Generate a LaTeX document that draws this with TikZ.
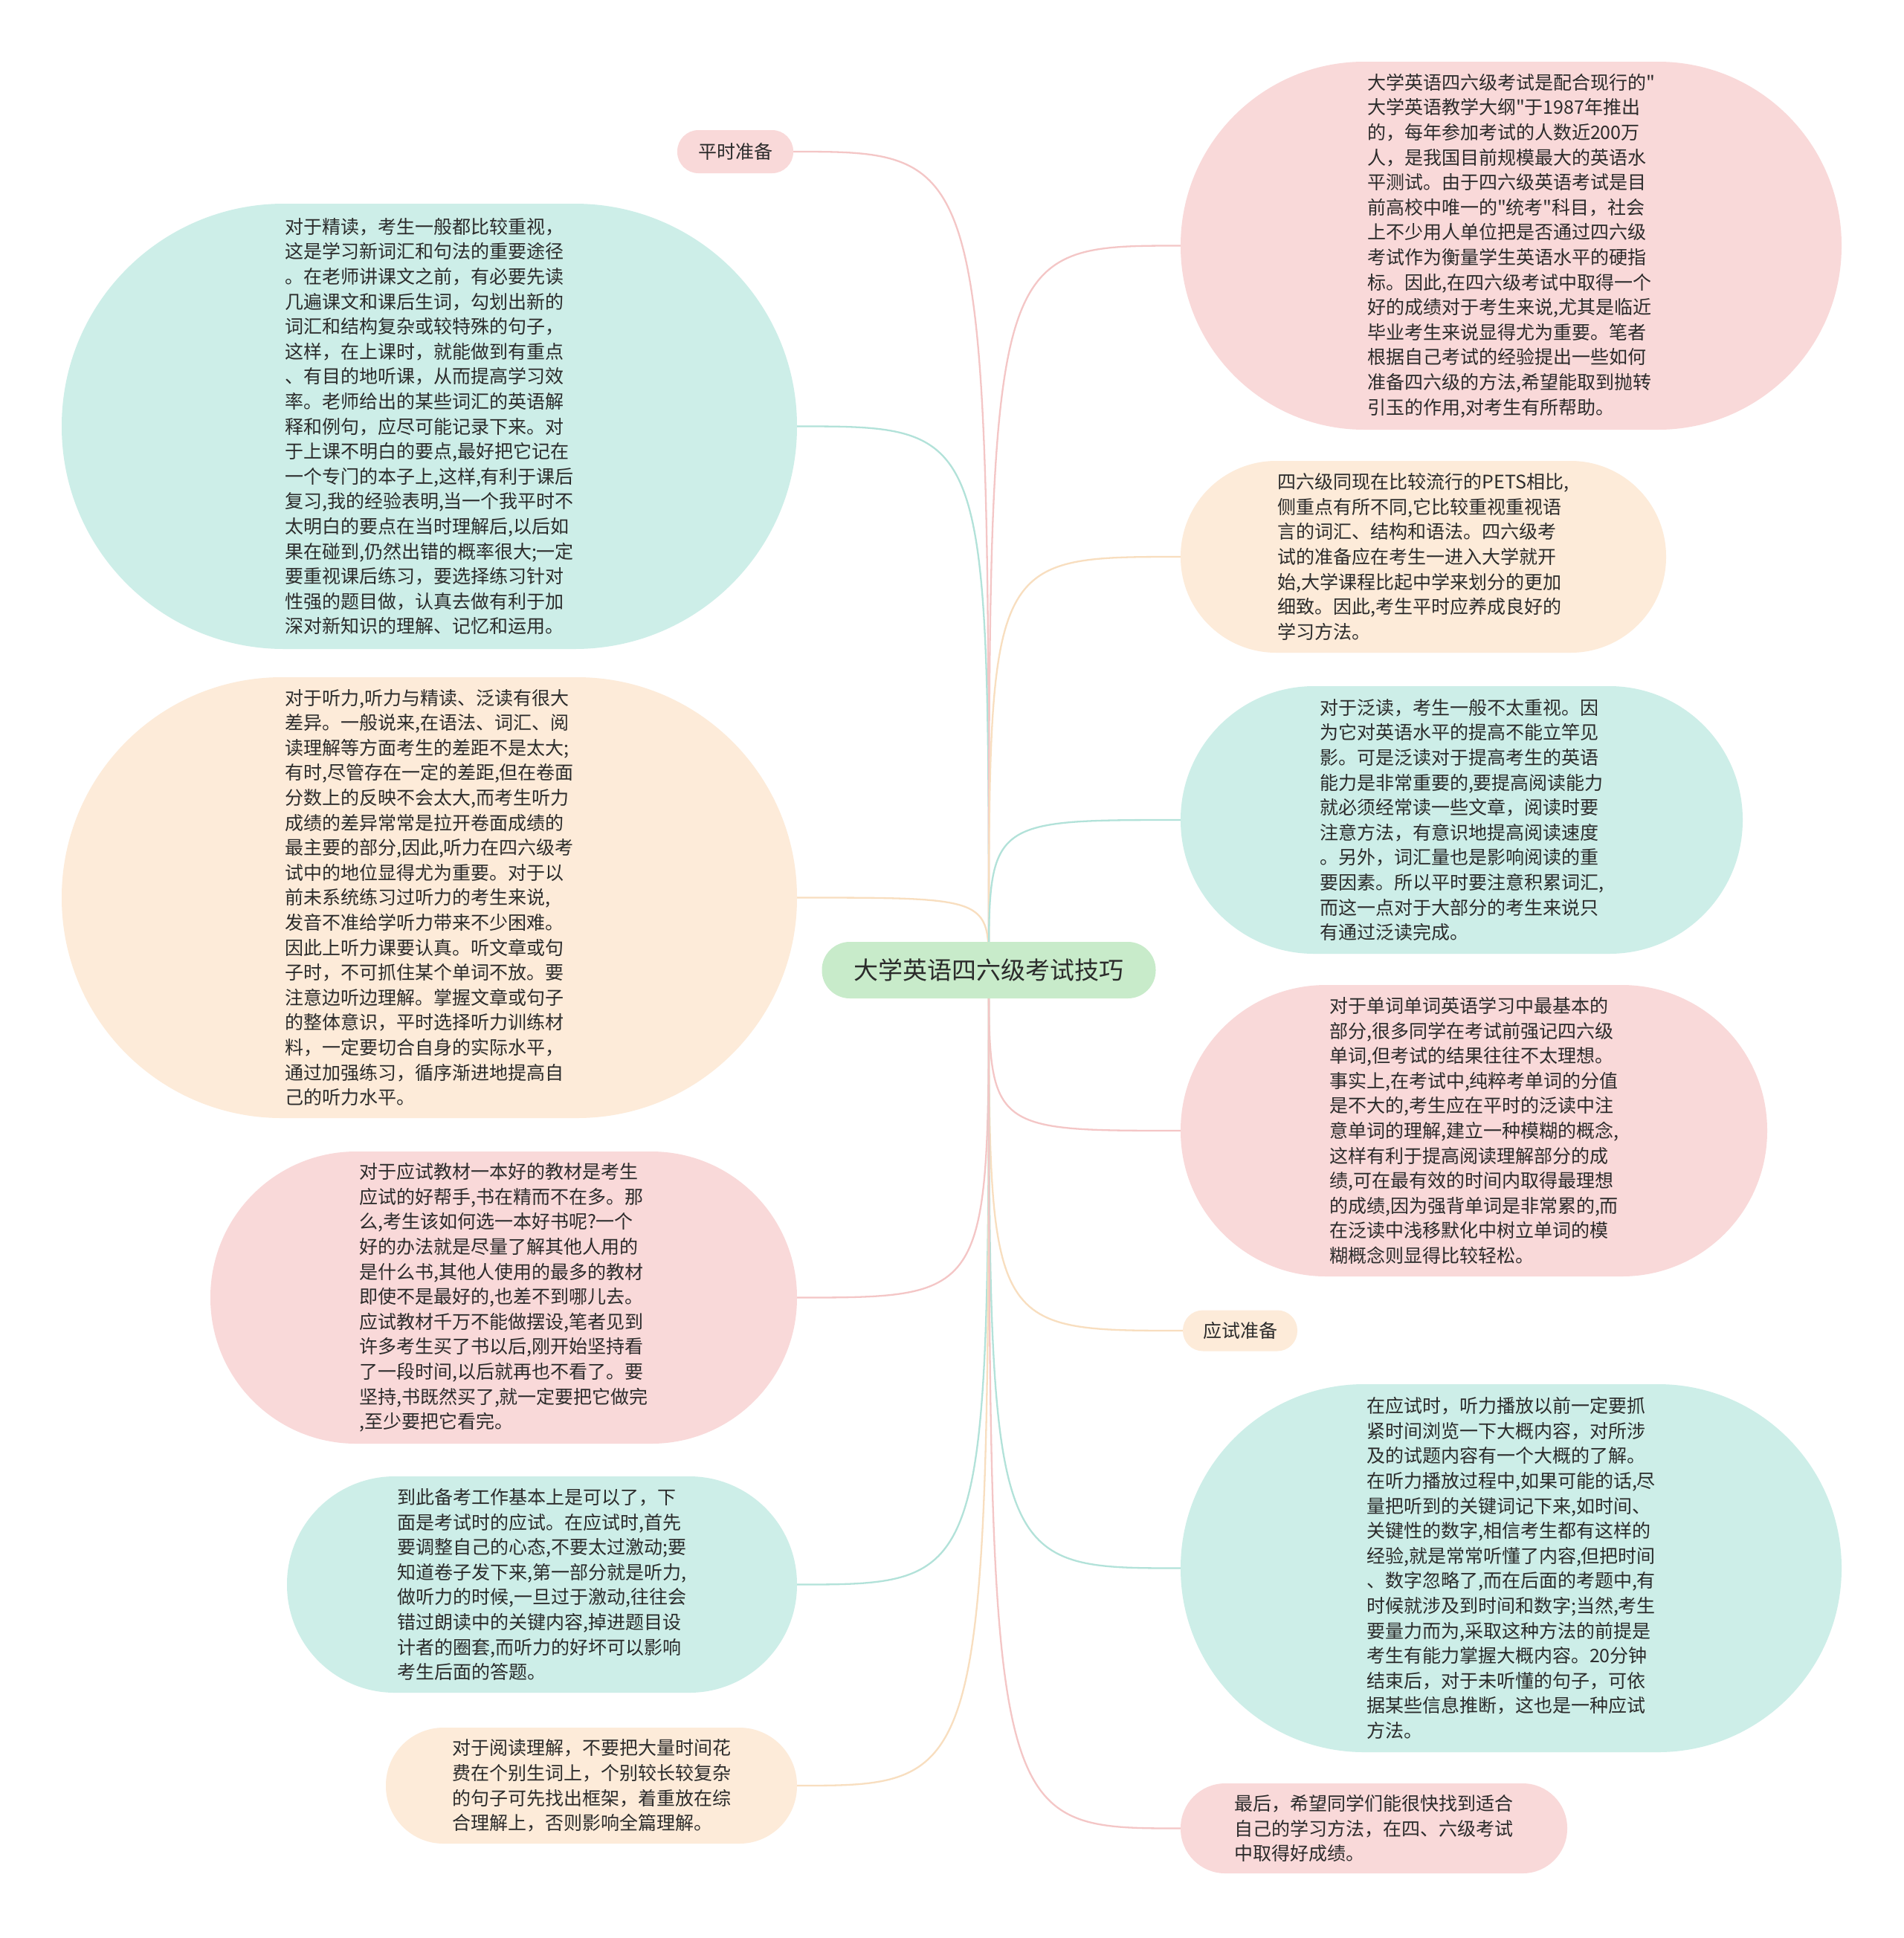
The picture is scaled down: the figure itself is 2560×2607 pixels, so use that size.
\documentclass[tikz,border=0pt]{standalone}
\usepackage{fontspec}
\newfontfamily\cjk{Noto Sans CJK SC}[Ligatures=TeXOff]
\usetikzlibrary{backgrounds}
\definecolor{tealF}{HTML}{CDEEE8}
\definecolor{pinkF}{HTML}{F9D9D9}
\definecolor{orangeF}{HTML}{FDEBD9}
\definecolor{greenF}{HTML}{C8EBCA}
\definecolor{tealL}{HTML}{B2E2D9}
\definecolor{pinkL}{HTML}{F4C6C6}
\definecolor{orangeL}{HTML}{F8DEBF}
\definecolor{txt}{HTML}{2B2B2B}
\begin{document}
\begin{tikzpicture}[x=1pt,y=-1pt,
  bub/.style={draw=none, align=left, inner sep=0pt, text=txt, font=\cjk\fontsize{25pt}{33.6pt}\selectfont},
  conn/.style={line width=2.3pt, line cap=round}]
\useasboundingbox (0,0) rectangle (2560,2607);

% centre
\node[bub, fill=greenF, minimum width=449pt, minimum height=76pt, rounded corners=37.5pt, align=center, font=\cjk\fontsize{33pt}{40pt}\selectfont] (c) at (1330,1305) {大学英语四六级考试技巧};

% labels
\node[bub, fill=pinkF, minimum width=156pt, minimum height=58pt, rounded corners=28.5pt, align=center] (ps) at (989,204) {平时准备};
\node[bub, fill=orangeF, minimum width=154pt, minimum height=55pt, rounded corners=27pt, align=center] (ys) at (1668,1790) {应试准备};

% left nodes
\node[bub, fill=tealF, minimum width=989pt, minimum height=599pt, rounded corners=299pt] (l1) at (577.5,573.5) {对于精读，考生一般都比较重视，\\这是学习新词汇和句法的重要途径\\。在老师讲课文之前，有必要先读\\几遍课文和课后生词，勾划出新的\\词汇和结构复杂或较特殊的句子，\\这样，在上课时，就能做到有重点\\、有目的地听课，从而提高学习效\\率。老师给出的某些词汇的英语解\\释和例句，应尽可能记录下来。对\\于上课不明白的要点,最好把它记在\\一个专门的本子上,这样,有利于课后\\复习,我的经验表明,当一个我平时不\\太明白的要点在当时理解后,以后如\\果在碰到,仍然出错的概率很大;一定\\要重视课后练习，要选择练习针对\\性强的题目做，认真去做有利于加\\深对新知识的理解、记忆和运用。};

\node[bub, fill=orangeF, minimum width=989pt, minimum height=593pt, rounded corners=296pt] (l2) at (577.5,1207.5) {对于听力,听力与精读、泛读有很大\\差异。一般说来,在语法、词汇、阅\\读理解等方面考生的差距不是太大;\\有时,尽管存在一定的差距,但在卷面\\分数上的反映不会太大,而考生听力\\成绩的差异常常是拉开卷面成绩的\\最主要的部分,因此,听力在四六级考\\试中的地位显得尤为重要。对于以\\前未系统练习过听力的考生来说,\\发音不准给学听力带来不少困难。\\因此上听力课要认真。听文章或句\\子时，不可抓住某个单词不放。要\\注意边听边理解。掌握文章或句子\\的整体意识，平时选择听力训练材\\料，一定要切合自身的实际水平，\\通过加强练习，循序渐进地提高自\\己的听力水平。};

\node[bub, fill=pinkF, minimum width=789pt, minimum height=393pt, rounded corners=196pt] (l3) at (677.5,1745.5) {对于应试教材一本好的教材是考生\\应试的好帮手,书在精而不在多。那\\么,考生该如何选一本好书呢?一个\\好的办法就是尽量了解其他人用的\\是什么书,其他人使用的最多的教材\\即使不是最好的,也差不到哪儿去。\\应试教材千万不能做摆设,笔者见到\\许多考生买了书以后,刚开始坚持看\\了一段时间,以后就再也不看了。要\\坚持,书既然买了,就一定要把它做完\\,至少要把它看完。};

\node[bub, fill=tealF, minimum width=686pt, minimum height=291pt, rounded corners=145pt] (l4) at (729,2131.5) {到此备考工作基本上是可以了，下\\面是考试时的应试。在应试时,首先\\要调整自己的心态,不要太过激动;要\\知道卷子发下来,第一部分就是听力,\\做听力的时候,一旦过于激动,往往会\\错过朗读中的关键内容,掉进题目设\\计者的圈套,而听力的好坏可以影响\\考生后面的答题。};

\node[bub, fill=orangeF, minimum width=553pt, minimum height=156pt, rounded corners=77.5pt] (l5) at (795.5,2402) {对于阅读理解，不要把大量时间花\\费在个别生词上，个别较长较复杂\\的句子可先找出框架，着重放在综\\合理解上，否则影响全篇理解。};

% right nodes
\node[bub, fill=pinkF, minimum width=889pt, minimum height=495pt, rounded corners=247pt] (r1) at (2032.5,330.5) {大学英语四六级考试是配合现行的"\\大学英语教学大纲"于1987年推出\\的，每年参加考试的人数近200万\\人，是我国目前规模最大的英语水\\平测试。由于四六级英语考试是目\\前高校中唯一的"统考"科目，社会\\上不少用人单位把是否通过四六级\\考试作为衡量学生英语水平的硬指\\标。因此,在四六级考试中取得一个\\好的成绩对于考生来说,尤其是临近\\毕业考生来说显得尤为重要。笔者\\根据自己考试的经验提出一些如何\\准备四六级的方法,希望能取到抛转\\引玉的作用,对考生有所帮助。};

\node[bub, fill=orangeF, minimum width=653pt, minimum height=258pt, rounded corners=128.5pt] (r2) at (1914.5,749) {四六级同现在比较流行的PETS相比,\\侧重点有所不同,它比较重视重视语\\言的词汇、结构和语法。四六级考\\试的准备应在考生一进入大学就开\\始,大学课程比起中学来划分的更加\\细致。因此,考生平时应养成良好的\\学习方法。};

\node[bub, fill=tealF, minimum width=756pt, minimum height=360pt, rounded corners=179.5pt] (r3) at (1966,1103) {对于泛读，考生一般不太重视。因\\为它对英语水平的提高不能立竿见\\影。可是泛读对于提高考生的英语\\能力是非常重要的,要提高阅读能力\\就必须经常读一些文章，阅读时要\\注意方法，有意识地提高阅读速度\\。另外，词汇量也是影响阅读的重\\要因素。所以平时要注意积累词汇,\\而这一点对于大部分的考生来说只\\有通过泛读完成。};

\node[bub, fill=pinkF, minimum width=789pt, minimum height=392pt, rounded corners=195.5pt] (r4) at (1982.5,1521) {对于单词单词英语学习中最基本的\\部分,很多同学在考试前强记四六级\\单词,但考试的结果往往不太理想。\\事实上,在考试中,纯粹考单词的分值\\是不大的,考生应在平时的泛读中注\\意单词的理解,建立一种模糊的概念,\\这样有利于提高阅读理解部分的成\\绩,可在最有效的时间内取得最理想\\的成绩,因为强背单词是非常累的,而\\在泛读中浅移默化中树立单词的模\\糊概念则显得比较轻松。};

\node[bub, fill=tealF, minimum width=889pt, minimum height=495pt, rounded corners=247pt] (r5) at (2032.5,2109.5) {在应试时，听力播放以前一定要抓\\紧时间浏览一下大概内容，对所涉\\及的试题内容有一个大概的了解。\\在听力播放过程中,如果可能的话,尽\\量把听到的关键词记下来,如时间、\\关键性的数字,相信考生都有这样的\\经验,就是常常听懂了内容,但把时间\\、数字忽略了,而在后面的考题中,有\\时候就涉及到时间和数字;当然,考生\\要量力而为,采取这种方法的前提是\\考生有能力掌握大概内容。20分钟\\结束后，对于未听懂的句子，可依\\据某些信息推断，这也是一种应试\\方法。};

\node[bub, fill=pinkF, minimum width=520pt, minimum height=121pt, rounded corners=60pt] (r6) at (1848,2459.5) {最后，希望同学们能很快找到适合\\自己的学习方法，在四、六级考试\\中取得好成绩。};

\begin{scope}[on background layer]
\fill[white] (0,0) rectangle (2560,2607);
\draw[conn, pinkL]   (c.center) .. controls (c.center |- ps.east) .. (ps.east);
\draw[conn, tealL]   (c.center) .. controls (c.center |- l1.east) .. (l1.east);
\draw[conn, orangeL] (c.center) .. controls (c.center |- l2.east) .. (l2.east);
\draw[conn, pinkL]   (c.center) .. controls (c.center |- l3.east) .. (l3.east);
\draw[conn, tealL]   (c.center) .. controls (c.center |- l4.east) .. (l4.east);
\draw[conn, orangeL] (c.center) .. controls (c.center |- l5.east) .. (l5.east);
\draw[conn, pinkL]   (c.center) .. controls (c.center |- r1.west) .. (r1.west);
\draw[conn, orangeL] (c.center) .. controls (c.center |- r2.west) .. (r2.west);
\draw[conn, tealL]   (c.center) .. controls (c.center |- r3.west) .. (r3.west);
\draw[conn, pinkL]   (c.center) .. controls (c.center |- r4.west) .. (r4.west);
\draw[conn, orangeL] (c.center) .. controls (c.center |- ys.west) .. (ys.west);
\draw[conn, tealL]   (c.center) .. controls (c.center |- r5.west) .. (r5.west);
\draw[conn, pinkL]   (c.center) .. controls (c.center |- r6.west) .. (r6.west);
\end{scope}
\end{tikzpicture}
\end{document}
